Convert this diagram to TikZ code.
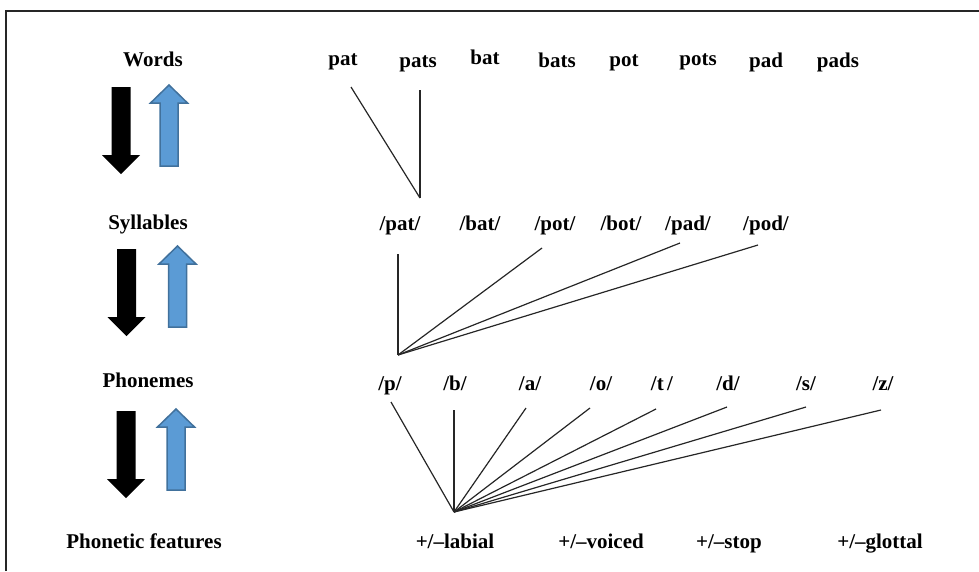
\documentclass[tikz,border=0pt]{standalone}
\usepackage{fontspec}
\setmainfont{Liberation Serif}
\usepackage{tikz}
\usetikzlibrary{calc}

\definecolor{upblue}{HTML}{5B9BD5}
\definecolor{upedge}{HTML}{41719C}

\tikzset{
  lbl/.style={font=\fontsize{21}{25}\selectfont\bfseries, inner sep=0pt, anchor=base},
  link/.style={line width=1.2pt, draw=black!85},
  % block arrows, placed at the shaft end
  pics/downarr/.style={code={
    \fill[black] (-9.5,0) -- (9.5,0) -- (9.5,68) -- (19,68) -- (0,87)
                 -- (-19,68) -- (-9.5,68) -- cycle;}},
  pics/uparr/.style={code={
    \draw[fill=upblue, draw=upedge, line width=1.5pt]
      (-9,0) -- (9,0) -- (9,-63) -- (18.5,-63) -- (0,-81)
      -- (-18.5,-63) -- (-9,-63) -- cycle;}},
}

\begin{document}
\begin{tikzpicture}[x=1pt, y=-1pt]
  \useasboundingbox (0,0) rectangle (979,571);

  % frame
  \draw[line width=1.5pt, black!85] (6,571) -- (6,11) -- (979,11);

  % level names
  \node[lbl] (lwords) at (153,66)  {Words};
  \node[lbl] (lsyll)  at (148,229) {Syllables};
  \node[lbl] (lphon)  at (148,387) {Phonemes};
  \node[lbl] (lfeat)  at (144,548) {Phonetic features};

  % top-down / bottom-up arrows
  \pic at (121,87)    {downarr};
  \pic at (169,166)   {uparr};
  \pic at (126.5,249) {downarr};
  \pic at (177.5,327) {uparr};
  \pic at (126,411)   {downarr};
  \pic at (176,490)   {uparr};

  % words
  \node[lbl] (wpat)  at (343,65) {pat};
  \node[lbl] (wpats) at (418,67) {pats};
  \node[lbl] (wbat)  at (485,64) {bat};
  \node[lbl] (wbats) at (557,67) {bats};
  \node[lbl] (wpot)  at (624,66) {pot};
  \node[lbl] (wpots) at (698,65) {pots};
  \node[lbl] (wpad)  at (766,67) {pad};
  \node[lbl] (wpads) at (838,67) {pads};

  % syllables
  \node[lbl] (spat) at (400,230) {/pat/};
  \node[lbl] (sbat) at (480,230) {/bat/};
  \node[lbl] (spot) at (555,230) {/pot/};
  \node[lbl] (sbot) at (621,230) {/bot/};
  \node[lbl] (spad) at (688,230) {/pad/};
  \node[lbl] (spod) at (766,230) {/pod/};

  % phonemes
  \node[lbl] (pp) at (390,390) {/p/};
  \node[lbl] (pb) at (455,390) {/b/};
  \node[lbl] (pa) at (530,390) {/a/};
  \node[lbl] (po) at (601,390) {/o/};
  \node[lbl] (pt) at (662,390) {/t\,/};
  \node[lbl] (pd) at (728,390) {/d/};
  \node[lbl] (ps) at (806,390) {/s/};
  \node[lbl] (pz) at (883,390) {/z/};

  % features
  \node[lbl] (flab) at (455,548) {+/--labial};
  \node[lbl] (fvoi) at (601,548) {+/--voiced};
  \node[lbl] (fsto) at (729,548) {+/--stop};
  \node[lbl] (fglo) at (880,548) {+/--glottal};

  % hubs where the links meet
  \coordinate (whub) at (420,198);
  \coordinate (shub) at (398,355);
  \coordinate (phub) at (454,512);

  % words -> syllable
  \draw[link] ([shift={(8,22)}]wpat.base)  -- (whub);
  \draw[link] ([shift={(2,23)}]wpats.base) -- (whub);

  % syllables -> phoneme
  \draw[link] ([shift={(-2,24)}]spat.base)  -- (shub);
  \draw[link] ([shift={(-13,18)}]spot.base) -- (shub);
  \draw[link] ([shift={(-8,13)}]spad.base)  -- (shub);
  \draw[link] ([shift={(-8,15)}]spod.base)  -- (shub);

  % phonemes -> feature
  \draw[link] ([shift={(1,12)}]pp.base)   -- (phub);
  \draw[link] ([shift={(-1,20)}]pb.base)  -- (phub);
  \draw[link] ([shift={(-4,18)}]pa.base)  -- (phub);
  \draw[link] ([shift={(-11,18)}]po.base) -- (phub);
  \draw[link] ([shift={(-6,19)}]pt.base)  -- (phub);
  \draw[link] ([shift={(-1,17)}]pd.base)  -- (phub);
  \draw[link] ([shift={(0,17)}]ps.base)   -- (phub);
  \draw[link] ([shift={(-2,20)}]pz.base)  -- (phub);
\end{tikzpicture}
\end{document}
